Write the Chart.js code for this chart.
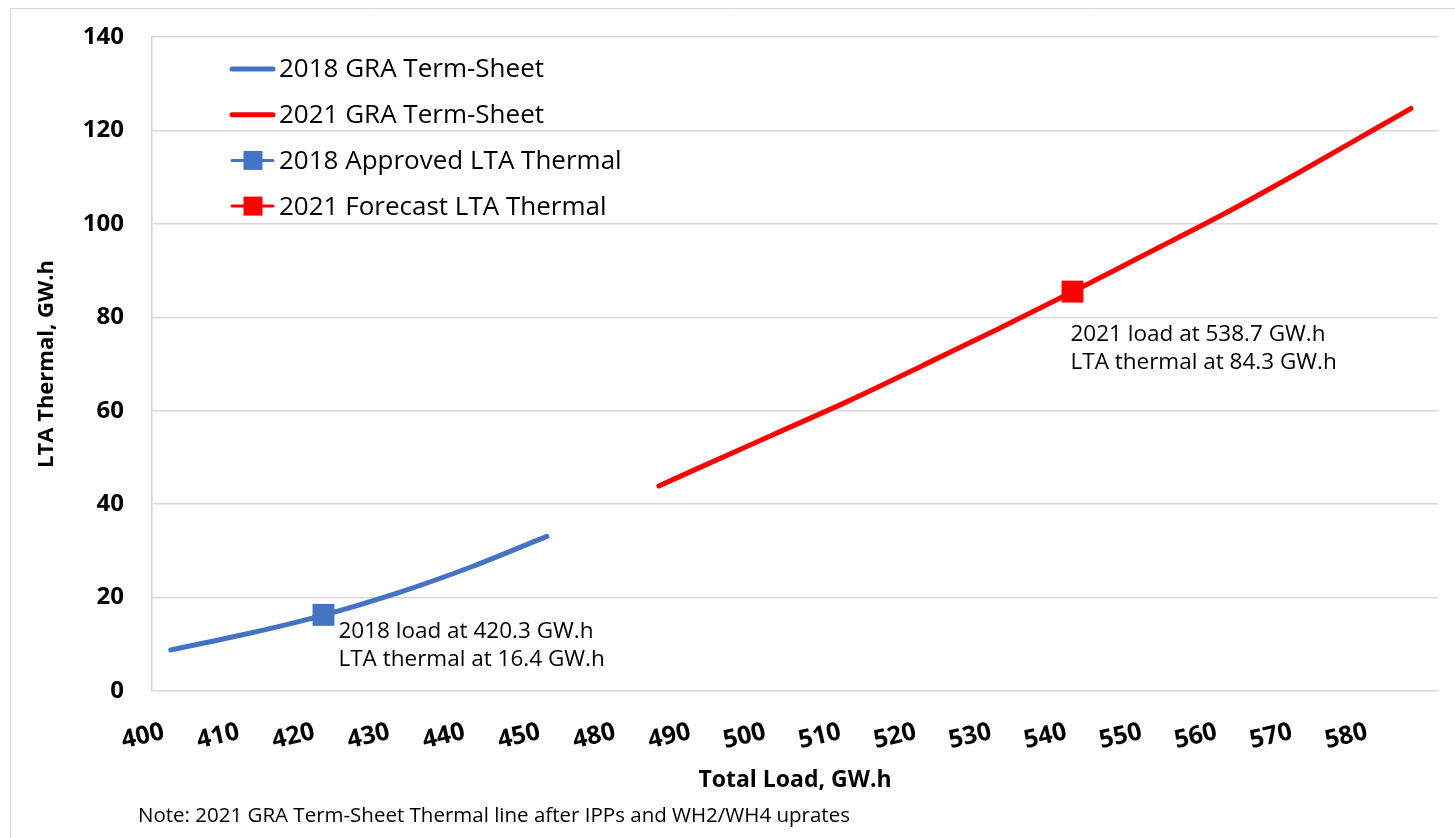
<!DOCTYPE html>
<html>
<head>
<meta charset="utf-8">
<script src="https://cdn.jsdelivr.net/npm/chart.js@4.4.1/dist/chart.umd.min.js"></script>
<style>
  html, body { margin: 0; padding: 0; background: #fff; }
  #wrap { width: 1455px; height: 838px; }
</style>
</head>
<body>
<div id="wrap"><canvas id="chart" width="1455" height="838"></canvas></div>
<script>
// Tick labels of the (broken) load axis, GW.h
const tickLoads = [400, 410, 420, 430, 440, 450, 480, 490, 500, 510, 520, 530, 540, 550, 560, 570, 580];

// 2018 GRA term-sheet curve
const load2018 = [400, 410, 420, 430, 440, 450];
const thermal2018 = [8.8, 12.2, 16.1, 20.9, 26.6, 33.1];

// 2021 GRA term-sheet curve
const load2021 = [484.9, 490, 500, 510, 520, 530, 540, 550, 560, 570, 580, 584.9];
const thermal2021 = [43.9, 47.6, 54.8, 62.0, 69.7, 77.5, 85.5, 93.8, 102.1, 111.0, 120.2, 124.7];

// single markers [load, thermal]
const approved2018 = [420.3, 16.3];
const forecast2021 = [539.9, 85.5];

const noteLines2018 = ['2018 load at 420.3 GW.h', 'LTA thermal at 16.4 GW.h'];
const noteLines2021 = ['2021 load at 538.7 GW.h', 'LTA thermal at 84.3 GW.h'];
const footNote = 'Note: 2021 GRA Term-Sheet Thermal line after IPPs and WH2/WH4 uprates';

const BLUE = '#4472C4';
const RED = '#FF0000';
const FONT = "'Open Sans', 'Liberation Sans', sans-serif";

// the axis jumps from 450 straight to 480, one tick step wide
function axisPos(load) {
  return load <= 450 ? load - 400 : load - 480 + 60;
}

function pts(loads, vals) {
  return loads.map((l, i) => ({ x: axisPos(l), y: vals[i] }));
}

Chart.defaults.font.family = FONT;
Chart.defaults.color = '#000';

// legend drawn in the top-left corner of the plot, Excel style
const legendBlock = {
  id: 'legendBlock',
  afterDraw(chart) {
    const ctx = chart.ctx;
    const left = chart.chartArea.left + 78;
    ctx.save();
    chart.data.datasets.forEach((ds, i) => {
      const y = chart.chartArea.top + 32 + i * 45.7;
      ctx.strokeStyle = ds.borderColor || ds.backgroundColor;
      ctx.lineCap = 'round';
      if (ds.showLine === false) {
        ctx.lineWidth = 3;
        ctx.beginPath(); ctx.moveTo(left + 2, y); ctx.lineTo(left + 43, y); ctx.stroke();
        ctx.fillStyle = ds.backgroundColor;
        ctx.fillRect(left + 23 - 9.5, y - 9.5, 19, 19);
      } else {
        ctx.lineWidth = 5;
        ctx.beginPath(); ctx.moveTo(left + 2, y); ctx.lineTo(left + 43, y); ctx.stroke();
      }
      ctx.fillStyle = '#000';
      ctx.font = '26px ' + FONT;
      ctx.textBaseline = 'middle';
      ctx.textAlign = 'left';
      ctx.fillText(ds.label, left + 49, y + 1);
    });
    ctx.restore();
  }
};

// marker call-outs, footnote and outer frame
const callouts = {
  id: 'callouts',
  beforeDraw(chart) {
    const ctx = chart.ctx;
    ctx.save();
    ctx.fillStyle = '#fff';
    ctx.fillRect(0, 0, chart.width, chart.height);
    ctx.strokeStyle = '#d9d9d9';
    ctx.lineWidth = 1;
    ctx.beginPath();
    ctx.moveTo(10.5, chart.height);
    ctx.lineTo(10.5, 8.5);
    ctx.lineTo(chart.width, 8.5);
    ctx.stroke();
    ctx.restore();
  },
  afterDraw(chart) {
    const ctx = chart.ctx;
    ctx.save();
    ctx.fillStyle = '#000';
    ctx.font = '22.5px ' + FONT;
    ctx.textBaseline = 'middle';
    ctx.textAlign = 'left';
    const p1 = chart.getDatasetMeta(2).data[0];
    noteLines2018.forEach((t, i) => ctx.fillText(t, p1.x + 15, p1.y + 17 + i * 28));
    const p2 = chart.getDatasetMeta(3).data[0];
    noteLines2021.forEach((t, i) => ctx.fillText(t, p2.x - 2, p2.y + 43 + i * 28));
    ctx.font = '20.5px ' + FONT;
    ctx.fillText(footNote, 138, 816);
    ctx.restore();
  }
};

new Chart(document.getElementById('chart'), {
  type: 'line',
  data: {
    datasets: [
      {
        label: '2018 GRA Term-Sheet',
        data: pts(load2018, thermal2018),
        borderColor: BLUE,
        borderWidth: 5,
        borderCapStyle: 'round',
        pointRadius: 0,
        cubicInterpolationMode: 'monotone',
        order: 1
      },
      {
        label: '2021 GRA Term-Sheet',
        data: pts(load2021, thermal2021),
        borderColor: RED,
        borderWidth: 5,
        borderCapStyle: 'round',
        pointRadius: 0,
        cubicInterpolationMode: 'monotone',
        order: 1
      },
      {
        label: '2018 Approved LTA Thermal',
        data: [{ x: axisPos(approved2018[0]), y: approved2018[1] }],
        showLine: false,
        pointStyle: 'rect',
        pointRadius: 15.5,
        borderWidth: 0,
        borderColor: BLUE,
        backgroundColor: BLUE,
        order: 0
      },
      {
        label: '2021 Forecast LTA Thermal',
        data: [{ x: axisPos(forecast2021[0]), y: forecast2021[1] }],
        showLine: false,
        pointStyle: 'rect',
        pointRadius: 15.5,
        borderWidth: 0,
        borderColor: RED,
        backgroundColor: RED,
        order: 0
      }
    ]
  },
  options: {
    responsive: false,
    animation: false,
    devicePixelRatio: 1,
    layout: { padding: { left: 20, top: 37, right: 17, bottom: 38 } },
    plugins: {
      legend: { display: false },
      tooltip: { enabled: false }
    },
    scales: {
      x: {
        type: 'linear',
        min: -2.5,
        max: 168.5,
        afterBuildTicks(axis) {
          axis.ticks = tickLoads.map(v => ({ value: axisPos(v) }));
        },
        afterFit(axis) { axis.height = 109; },
        grid: { display: false },
        border: { display: false },
        ticks: {
          autoSkip: false,
          minRotation: 13,
          maxRotation: 13,
          padding: 18,
          labelOffset: -7,
          font: { size: 25, weight: 'bold' },
          callback: (value, i) => String(tickLoads[i])
        },
        title: {
          display: true,
          text: 'Total Load, GW.h',
          font: { size: 23, weight: 'bold' },
          padding: { top: 0, bottom: 6 }
        }
      },
      y: {
        min: 0,
        max: 140,
        afterFit(axis) { axis.width = 132; },
        // invisible tick marks keep the labels away from the axis
        grid: { color: '#d9d9d9', lineWidth: 1.5, drawTicks: true, tickLength: 24, tickColor: 'rgba(0,0,0,0)' },
        border: { display: true, color: '#d0d0d0', width: 1.5 },
        ticks: {
          stepSize: 20,
          padding: 4,
          font: { size: 24, weight: 'bold' }
        },
        title: {
          display: true,
          text: 'LTA Thermal, GW.h',
          font: { size: 22, weight: 'bold' },
          padding: { top: 14, bottom: 0 }
        }
      }
    }
  },
  plugins: [callouts, legendBlock]
});
</script>
</body>
</html>
